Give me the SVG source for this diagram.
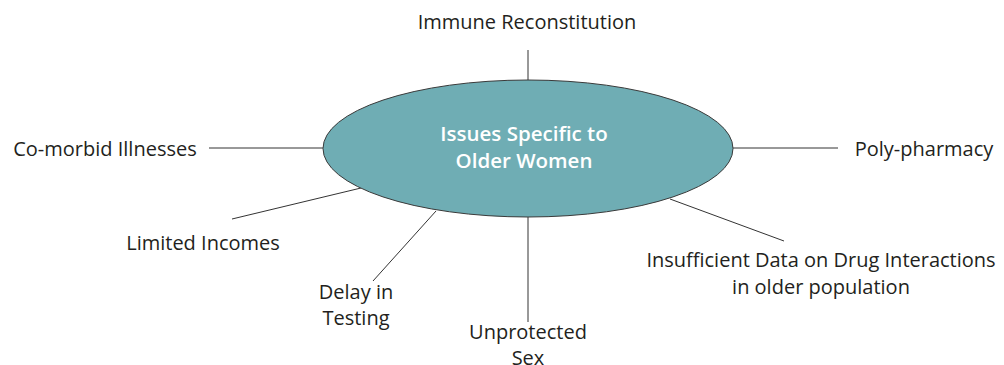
<svg xmlns="http://www.w3.org/2000/svg" width="1004" height="365" viewBox="0 0 1004 365">
  <style>
    .lbl { font-family: "Open Sans", Lato, sans-serif; font-size: 20px; fill: #231f20; }
    .hub { font-family: "Open Sans", Lato, sans-serif; font-size: 20.5px; font-weight: 600; fill: #ffffff; }
    .conn line { stroke: #333333; stroke-width: 1; }
  </style>
  <rect width="1004" height="365" fill="#ffffff"/>

  <!-- spokes from the central ellipse to each label -->
  <g id="connectors" class="conn">
    <line x1="528" y1="50" x2="528" y2="80"/>
    <line x1="209" y1="148" x2="323" y2="148"/>
    <line x1="733" y1="148" x2="838" y2="148"/>
    <line x1="232" y1="219" x2="361" y2="188"/>
    <line x1="373" y1="281" x2="436" y2="211"/>
    <line x1="528" y1="217" x2="528" y2="322"/>
    <line x1="670" y1="199" x2="784" y2="241"/>
  </g>

  <g id="hub">
    <ellipse cx="528" cy="148.5" rx="205" ry="68.5" fill="#6fadb4" stroke="#3a3a3a" stroke-width="1"/>
    <text class="hub" text-anchor="middle" x="524" y="141">Issues Specific to</text>
    <text class="hub" text-anchor="middle" x="524" y="168">Older Women</text>
  </g>

  <g id="immune-reconstitution">
    <text class="lbl" text-anchor="middle" x="527" y="29">Immune Reconstitution</text>
  </g>
  <g id="co-morbid-illnesses">
    <text class="lbl" text-anchor="middle" x="105" y="156">Co-morbid Illnesses</text>
  </g>
  <g id="poly-pharmacy">
    <text class="lbl" text-anchor="middle" x="924" y="156">Poly-pharmacy</text>
  </g>
  <g id="limited-incomes">
    <text class="lbl" text-anchor="middle" x="203" y="250">Limited Incomes</text>
  </g>
  <g id="delay-in-testing">
    <text class="lbl" text-anchor="middle" x="356" y="299">Delay in</text>
    <text class="lbl" text-anchor="middle" x="356" y="325">Testing</text>
  </g>
  <g id="unprotected-sex">
    <text class="lbl" text-anchor="middle" x="528" y="339">Unprotected</text>
    <text class="lbl" text-anchor="middle" x="528" y="365">Sex</text>
  </g>
  <g id="insufficient-data">
    <text class="lbl" text-anchor="middle" x="821" y="267">Insufficient Data on Drug Interactions</text>
    <text class="lbl" text-anchor="middle" x="821" y="294">in older population</text>
  </g>
</svg>
